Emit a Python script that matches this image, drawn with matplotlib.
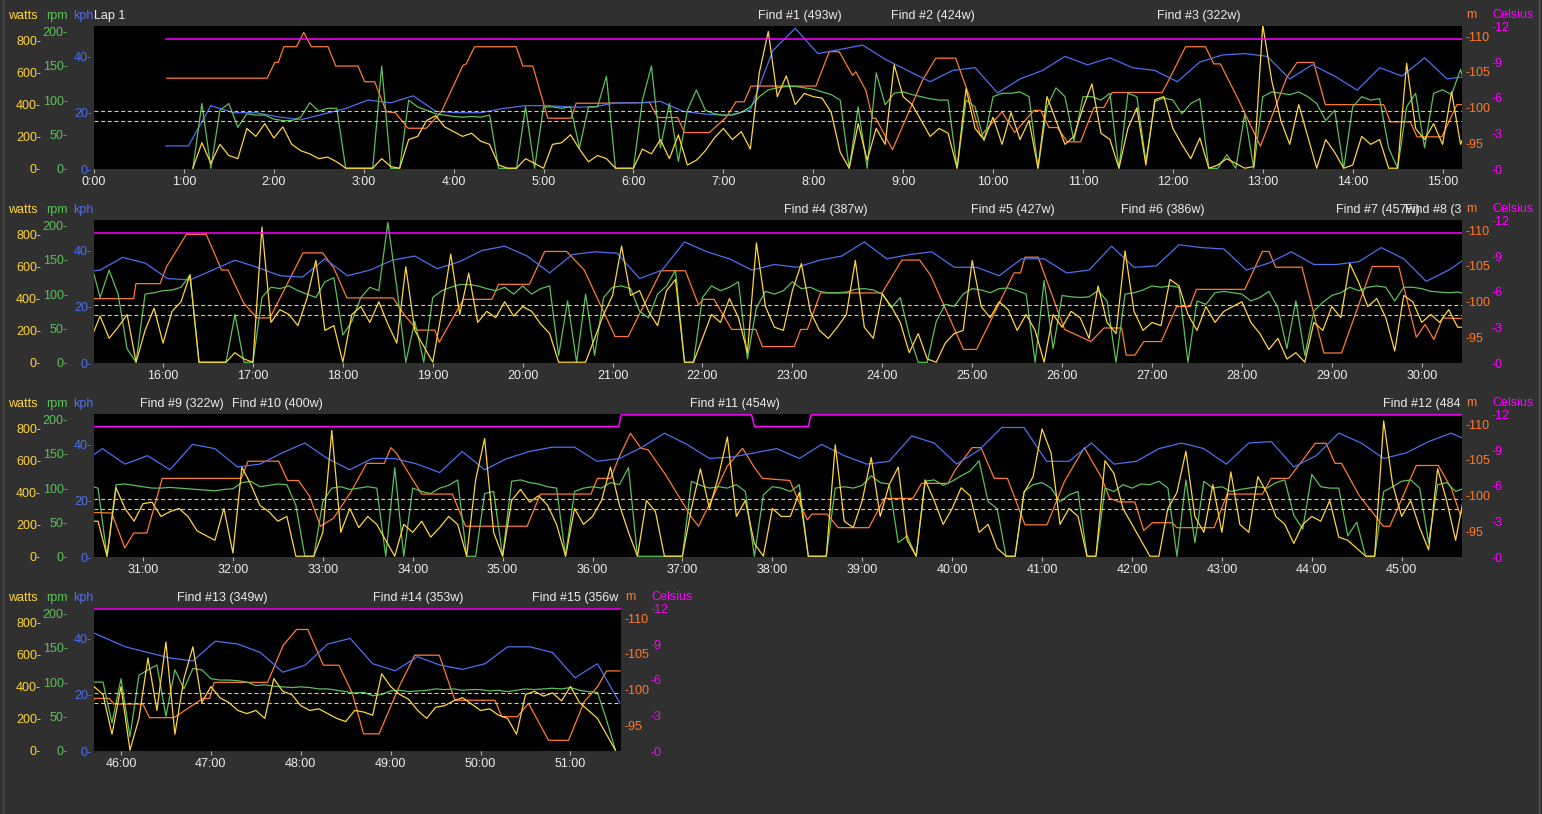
import numpy as np
import matplotlib.pyplot as plt
from matplotlib.ticker import FixedLocator, FuncFormatter
from matplotlib.transforms import Bbox, TransformedBbox, blended_transform_factory
from matplotlib.lines import Line2D

plt.rcParams['font.family'] = ['Liberation Sans', 'DejaVu Sans']
plt.rcParams['font.size'] = 9

# ride data, time in minutes
# power (watts) and cadence (rpm) every 0.1 min, one chunk per row
power_p1 = [0,
            160, 30, 150, 80, 60, 250, 200, 280, 190,
            260, 150, 110, 90, 60, 70, 40, 0, 0, 0,
            0, 60, 10, 0, 180, 200, 300, 330, 260, 230,
            200, 220, 170, 150, 20, 0, 0, 60, 30, 0,
            150, 160, 210, 120, 40, 80,
            60, 0, 0, 0,
            120, 90, 180, 60, 210, 20, 50, 110, 190, 250,
            180, 230, 120, 600, 860, 450, 580, 400, 470, 450,
            440, 350, 100, 0, 280, 50, 250, 150, 650, 450,
            400, 300, 200, 250, 220, 0, 500, 250, 180, 320,
            150, 350, 180,
            300, 0, 450, 300, 150, 200, 380,
            530, 220, 180, 0, 250, 380, 20, 430, 450, 250,
            150, 60, 190, 0, 20, 60, 30, 0, 10, 900,
            550, 300, 150, 400, 200, 0, 180, 100, 0, 20,
            200, 150, 180, 0, 0, 660, 250, 180, 280, 150,
            480, 150]
power_p2 = [290, 150, 220, 300, 0, 200, 340, 120,
            320, 380, 550, 0, 0, 0, 0, 60, 20, 0,
            850, 250, 330, 300, 230, 400, 640, 200, 230, 0,
            300, 350, 250, 380, 240, 120, 600, 200, 100, 0,
            320, 680, 300, 560, 250, 320, 280, 380, 290, 350,
            320, 240, 180, 0, 0, 0, 0, 150, 300, 420,
            730, 420, 450, 320, 230, 450, 520, 0, 0, 150,
            300, 250, 400, 280, 60, 750, 350, 220,
            200, 450,
            620, 320, 200, 150, 220, 300, 640, 220, 150, 430,
            350, 250, 60, 180, 20, 0, 120, 180, 200, 640,
            350, 280, 380, 330, 200, 300, 200, 0, 300, 220,
            320, 280, 150, 480, 250, 180, 700, 320, 200, 250,
            230, 520, 480, 300, 200, 350, 250, 320, 350, 380,
            250, 180, 80, 150, 20, 60, 0, 250, 200, 350,
            280, 620, 500, 350, 400, 280, 70, 420, 380, 250,
            300, 250, 330, 220]
power_p3 = [220, 0, 430, 300, 220, 330,
            340, 250, 280, 300, 250, 160, 130, 100, 300, 20,
            560, 450, 320, 280, 220, 250, 0, 0, 0, 150,
            790, 150, 300, 180, 250, 200, 100, 0, 200, 150,
            220, 120, 180, 250, 200, 0, 480, 740, 150, 0,
            350, 420, 340, 380, 320, 200, 0, 300, 200, 250,
            350, 560, 320, 150, 0, 350, 280, 0, 0, 0,
            300, 550, 300, 500, 750, 250, 350, 80, 0, 300,
            250,
            250, 400, 0, 0, 0, 700, 220, 180, 350,
            620, 250, 450, 560, 100, 0, 480, 350, 200, 300,
            430, 380, 150, 200, 50, 0, 0, 400, 500, 800,
            650, 200, 300, 250, 0, 0, 600, 520, 300, 200,
            100, 0, 0, 300, 400, 660, 250, 150, 450, 150,
            530, 200, 150, 500, 400, 250, 200, 80, 200, 250,
            220, 350, 120, 100, 50, 0, 0, 850, 450, 250,
            350, 180, 40, 550, 350, 100]
power_p4 = [400,
            350, 100, 400,
            0, 200, 580, 250, 680, 100, 450, 650, 300, 400,
            330, 300, 250, 230, 250, 200, 450, 370, 350, 280,
            250, 260, 230, 200, 180, 250, 240, 220, 480, 400,
            350, 320, 250, 200, 270, 280, 310, 330, 290, 250,
            260, 220, 200, 100, 350, 370, 340, 360, 310, 400,
            300, 250, 200, 100, 0]

cadence_p1 = [0,
              95, 0, 85, 95, 60, 80, 78, 78, 72,
              70, 70, 75, 96, 84, 88, 88, 0, 0, 0,
              0, 150, 0, 0, 100, 90, 85, 80, 78, 76,
              75, 76, 75, 78, 0, 0, 0, 90, 0, 90,
              90, 88, 90, 30, 90, 90,
              135, 0, 0, 0,
              100, 150, 30, 95, 10, 85, 115, 85, 80, 78,
              78, 82, 90, 105, 115, 118, 120, 120, 118, 116,
              112, 108, 100, 0, 90, 0, 140, 93, 110, 112,
              108, 105, 102, 100, 100, 0, 100, 90, 40, 105,
              110, 110, 112,
              105, 0, 90, 118, 105, 40, 105,
              105, 100, 110, 0, 110, 105, 10, 98, 103, 100,
              80, 95, 102, 0, 0, 20, 0, 80, 0, 105,
              112, 110, 108, 112, 105, 95, 70, 85, 0, 90,
              105, 100, 102, 30, 0, 90, 110, 30, 110, 115,
              108, 145]
cadence_p2 = [95, 135, 100, 20, 0, 100, 102, 105,
              106, 110, 128, 0, 0, 0, 0, 70, 0, 0,
              95, 110, 108, 112, 105, 100, 95, 118, 124, 40,
              60, 95, 110, 105, 205, 110, 0, 60, 0, 95,
              105, 110, 114, 114, 112, 108, 105, 110, 100, 112,
              100, 108, 112, 10, 90, 0, 100, 10, 95, 110,
              112, 108, 75, 65, 100, 112, 135, 0, 0, 95,
              112, 105, 110, 118, 5, 80, 104, 100,
              105, 118,
              108, 110, 104, 102, 102, 103, 107, 108, 106, 100,
              80, 95, 40, 0, 0, 60, 85, 82, 100, 108,
              106, 102, 108, 109, 105, 100, 0, 120, 20, 98,
              96, 95, 96, 105, 90, 0, 100, 102, 106, 112,
              110, 112, 110, 0, 90, 85, 102, 104, 102, 100,
              90, 95, 104, 80, 20, 90, 10, 75, 88, 98,
              102, 110, 105, 110, 112, 110, 90, 110, 110, 108,
              104, 103, 102, 103]
cadence_p3 = [100, 0, 105, 106, 104, 102,
              100, 100, 101, 100, 99, 98, 97, 96, 98, 99,
              108, 110, 102, 104, 106, 105, 75, 0, 0, 80,
              100, 102, 98, 100, 102, 100, 0, 130, 0, 100,
              95, 92, 100, 104, 112, 0, 0, 92, 95, 0,
              110, 112, 108, 106, 102, 100, 0, 95, 100, 102,
              100, 108, 105, 130, 0, 0, 0, 0, 0, 0,
              110, 104, 100, 102, 100, 105, 95, 0, 90, 102,
              100,
              95, 105, 0, 0, 0, 100, 102, 100, 104,
              118, 108, 106, 20, 30, 0, 110, 112, 104, 110,
              118, 125, 140, 80, 70, 0, 0, 95, 105, 108,
              100, 80, 90, 95, 0, 0, 100, 95, 105, 100,
              106, 105, 110, 100, 0, 112, 20, 110, 100, 102,
              95, 98, 100, 102, 100, 108, 112, 60, 40, 120,
              102, 100, 100, 30, 50, 0, 0, 95, 102, 110,
              112, 100, 20, 105, 108, 95]
cadence_p4 = [100,
              100, 40, 105,
              20, 110, 118, 125, 50, 118, 90, 120, 118, 105,
              103, 103, 102, 100, 95, 96, 94, 93, 92, 93,
              92, 90, 90, 88, 86, 84, 85, 80, 82, 87,
              88, 86, 87, 88, 90, 89, 90, 88, 89, 89,
              87, 88, 86, 88, 90, 89, 90, 91, 90, 92,
              88, 86, 85, 45, 0]

# speed (kph) every 0.25 min
speed_p1 = [8.2, 8.2, 22.5, 20, 20, 18.5, 17.5, 19.5, 21.5, 24.5,
            23.5, 26, 20.5, 20, 20, 21.5, 22.5, 22.5, 22, 22,
            23.5, 23.5, 24, 20.5, 19.5, 19, 21, 42, 50, 41,
            42.5, 44, 39, 35, 31, 35, 36, 27, 32, 35,
            40, 37, 39.5, 36, 35, 31, 38, 40.5, 41, 40,
            32, 37, 33, 28, 36, 33, 39.5, 32, 33]
speed_p2 = [37.5, 35.5, 30, 29.5, 33, 36.5, 34, 31, 30.5, 37,
            31, 33, 36.5, 38, 33.5, 36, 40, 41.5, 38, 32,
            38.5, 39.5, 39, 30, 33, 43, 39.5, 37, 33, 35,
            34, 36.5, 38, 43, 37, 38.5, 39.5, 34, 34, 31,
            37, 37, 32, 33, 41.5, 34, 34.5, 42, 41, 40.5,
            33, 35.5, 39.5, 35, 35, 36, 41, 37, 29, 33]
speed_p3 = [38.5, 33, 36, 31, 40, 38.5, 32, 33, 37, 40.5,
            35, 31, 35, 35, 33, 30, 37.5, 31, 35, 37.5,
            39, 39, 34, 35, 39, 44, 40, 35, 35.5, 37, 38.5,
            35, 40, 36, 33, 34, 43, 40.5, 33, 38, 46,
            46, 34, 34, 40.5, 33, 34, 38.5, 40.5, 38.5, 33,
            40.5, 41, 32, 36, 44, 40.5, 35, 37, 41, 44]
speed_p4 = [40.5, 37, 35, 33, 32, 39, 38, 35, 28, 30.5, 38, 40,
            31, 28.5, 33.5, 30.5, 29, 31, 37, 37, 35, 26, 31, 17]

# altitude (m) at its break points
alt_t = [0.807, 1.926, 2.011, 2.05, 2.111, 2.252, 2.333, 2.418, 2.603, 2.689,
         2.937, 3.011, 3.122, 3.252, 3.35, 3.493, 3.696, 3.863, 3.993, 4.104,
         4.14, 4.233, 4.696, 4.77, 4.881, 5.048, 5.307, 5.363, 5.622, 6.178,
         6.27, 6.492, 6.567, 6.844, 7.03, 7.141, 7.233, 7.307, 8.03, 8.178,
         8.289, 8.437, 8.474, 8.585, 8.659, 8.696, 8.881, 9.215, 9.363, 9.585,
         9.733, 9.86, 10.1, 10.24, 10.344, 10.455, 10.529, 10.622, 10.715, 10.826,
         10.974, 11.122, 11.233, 11.326, 11.881, 11.937, 12.141, 12.363, 12.455, 12.529,
         12.733, 12.974, 13.27, 13.381, 13.566, 13.696, 14.344, 14.418, 14.641, 14.715,
         14.992, 15.159, 15.673, 15.698, 15.967, 16.04, 16.26, 16.48, 16.651, 16.724,
         16.896, 17.042, 17.189, 17.556, 17.776, 17.898, 18.045, 18.558, 18.68, 18.827,
         19.023, 19.072, 19.341, 19.658, 19.732, 20.074, 20.245, 20.49, 20.685, 21.028,
         21.174, 21.541, 21.81, 21.957, 22.006, 22.128, 22.324, 22.592, 22.666, 23.02,
         23.093, 23.167, 23.313, 23.998, 24.218, 24.414, 24.536, 24.903, 25.049, 25.465,
         25.538, 25.587, 25.734, 26.027, 26.321, 26.467, 26.663, 26.712, 26.81, 26.908,
         27.103, 27.274, 27.421, 27.494, 28.032, 28.228, 28.301, 28.375, 28.668, 28.912,
         29.108, 29.45, 29.744, 29.94, 30.037, 30.135, 30.233, 30.652, 30.798, 30.896,
         31.043, 31.214, 32.094, 32.168, 32.51, 32.608, 32.73, 32.852, 32.974, 33.121,
         33.317, 33.488, 33.684, 33.757, 33.82, 33.977, 34.099, 34.441, 34.588, 35.273,
         35.42, 35.982, 36.055, 36.202, 36.3, 36.422, 36.54, 36.618, 36.813, 37.106,
         37.18, 37.35, 37.498, 37.669, 37.791, 37.889, 38.194, 38.3, 38.39, 38.439,
         38.61, 38.732, 39.074, 39.246, 39.563, 39.661, 39.955, 40.03, 40.223, 40.321,
         40.468, 40.615, 40.81, 41.055, 41.25, 41.47, 41.666, 41.75, 41.862, 42.033,
         42.131, 42.228, 42.449, 42.497, 42.913, 43.06, 43.451, 43.549, 43.744, 43.89,
         44.038, 44.16, 44.258, 44.331, 44.527, 44.796, 44.869, 45.162, 45.407, 45.553,
         45.651, 45.707, 45.871, 45.92, 46.243, 46.317, 46.59, 46.912, 46.986, 47.036,
         47.631, 47.805, 47.954, 48.078, 48.251, 48.425, 48.574, 48.698, 48.871, 49.094,
         49.268, 49.541, 49.714, 50.161, 50.235, 50.409, 50.533, 50.756, 50.979, 51.153,
         51.302, 51.401, 51.55]
alt_m = [104.1, 104.1, 106.3, 106.3, 108.5, 108.5, 110.5, 108.5, 108.5, 105.8,
         105.8, 103.6, 103.6, 99.4, 99.3, 97.1, 97.1, 99.4, 102.9, 105.9,
         106.1, 108.5, 108.5, 105.8, 105.8, 98.5, 98.5, 100.6, 100.6, 100.7,
         98.6, 98.6, 96.5, 96.5, 98.6, 100.8, 100.8, 103.0, 103.0, 107.8,
         107.8, 104.5, 105.0, 102.4, 98.5, 98.5, 94.1, 103.8, 106.9, 106.9,
         101.7, 96.0, 99.4, 96.5, 98.0, 99.6, 99.6, 97.2, 97.2, 95.2,
         95.2, 100.0, 100.0, 102.1, 102.1, 103.4, 108.5, 108.5, 106.1, 106.1,
         101.0, 94.6, 104.3, 106.3, 106.3, 100.4, 100.4, 98.0, 98.0, 95.9,
         95.9, 100.4, 100.4, 102.5, 102.5, 104.9, 109.4, 109.4, 104.4, 104.4,
         99.8, 97.7, 97.7, 106.8, 106.8, 104.7, 100.5, 100.5, 98.2, 96.0,
         96.0, 94.3, 100.3, 100.3, 102.4, 102.4, 107.0, 107.0, 104.4, 95.1,
         95.1, 104.3, 104.3, 99.5, 100.3, 100.3, 96.1, 96.1, 93.7, 93.7,
         96.1, 96.1, 101.2, 101.2, 105.8, 105.8, 103.7, 93.3, 93.3, 104.0,
         104.0, 106.2, 106.2, 96.1, 94.4, 96.3, 96.3, 92.5, 92.5, 94.4,
         94.4, 99.3, 99.3, 101.7, 101.7, 107.0, 107.0, 104.8, 104.8, 92.8,
         92.8, 104.9, 104.9, 95.0, 96.8, 94.7, 97.7, 97.55, 92.66, 94.75,
         94.75, 102.4, 102.4, 104.8, 104.8, 102.1, 102.1, 99.9, 95.7, 96.85,
         100.6, 104.5, 104.5, 106.7, 105.9, 102.7, 100.2, 100.2, 95.7, 95.7,
         100.2, 100.2, 102.4, 102.4, 105.5, 108.7, 106.6, 106.4, 102.9, 96.85,
         95.7, 100.1, 104.1, 106.6, 104.1, 102.4, 102.1, 99.0, 96.6, 97.4,
         97.4, 95.5, 95.5, 99.6, 99.6, 101.7, 101.7, 103.5, 106.7, 106.7,
         102.4, 102.4, 95.9, 95.9, 102.0, 106.7, 102.4, 99.6, 99.1, 99.1,
         95.1, 96.2, 96.2, 95.5, 95.5, 100.2, 100.2, 102.4, 102.4, 104.8,
         107.3, 107.3, 104.5, 104.5, 100.0, 95.7, 95.7, 104.2, 104.2, 101.0,
         97.3, 98.76, 98.76, 97.97, 97.97, 96.06, 96.06, 98.76, 98.76, 101.0,
         101.0, 106.2, 108.4, 108.4, 103.4, 103.4, 99.46, 93.8, 93.8, 100.4,
         104.8, 104.8, 98.5, 98.5, 96.2, 96.2, 98.06, 92.9, 92.9, 98.3,
         100.4, 102.6, 102.6]

# temperature (Celsius)
temp_t = [0.8, 36.29, 36.32, 37.77, 37.80, 38.40, 38.43, 51.56]
temp_c = [11, 11, 12, 12, 11, 11, 12, 12]

# dashed power reference lines (watts)
ref_watts = [358, 296]

# intervals: name, start minute
find_names = ["Find #1 (493w)", "Find #2 (424w)", "Find #3 (322w)",
              "Find #4 (387w)", "Find #5 (427w)", "Find #6 (386w)",
              "Find #7 (457w)", "Find #8 (3", "Find #9 (322w)",
              "Find #10 (400w)", "Find #11 (454w)", "Find #12 (484",
              "Find #13 (349w)", "Find #14 (353w)", "Find #15 (356w"]
find_start = [7.38, 8.86, 11.82, 22.91, 24.99, 26.66, 29.05, 29.81,
              30.97, 31.99, 37.08, 44.79, 46.62, 48.80, 50.57]

watts_ticks = [0, 200, 400, 600, 800]
rpm_ticks = [0, 50, 100, 150, 200]
kph_ticks = [0, 20, 40]
m_ticks = [95, 100, 105, 110]
c_ticks = [0, 3, 6, 9, 12]


def series(chunks, step):
    ts, vs = [], []
    for t0, vals in chunks:
        ts.append(t0 + step * np.arange(len(vals)))
        vs.append(np.asarray(vals, dtype=float))
    return np.concatenate(ts), np.concatenate(vs)


pow_t, pow_v = series([(1.1, power_p1), (15.3, power_p2), (30.5, power_p3), (45.7, power_p4)], 0.1)
cad_t, cad_v = series([(1.1, cadence_p1), (15.3, cadence_p2), (30.5, cadence_p3), (45.7, cadence_p4)], 0.1)
spd_t, spd_v = series([(0.8, speed_p1), (15.55, speed_p2), (30.55, speed_p3), (45.8, speed_p4)], 0.25)

BG = '#303030'
YELLOW = '#ffd43c'
GREEN = '#5cbf5a'
BLUE = '#4d6ff0'
ORANGE = '#ff7a2c'
MAGENTA = '#ff00ff'
WHITE = '#ececec'

W, H = 1542, 814
fig = plt.figure(figsize=(W / 100, H / 100), dpi=100, facecolor=BG)


def fx(x):
    return x / W


def fy(y):
    return 1 - y / H


# (top px, width px, xmin, xmax)
panels = [(26, 1368, 0.0, 15.216),
          (220, 1368, 15.232, 30.448),
          (414, 1368, 30.455, 45.671),
          (608, 527, 45.70, 51.562)]

PH = 143
LEFT = 94

for i, (top, wpx, t0, t1) in enumerate(panels):
    ax_alt = fig.add_axes([fx(LEFT), fy(top + PH), wpx / W, PH / H], facecolor='black')
    ax_spd = ax_alt.twinx()
    ax_cad = ax_alt.twinx()
    ax_pow = ax_alt.twinx()
    ax_tmp = ax_alt.twinx()

    ax_alt.plot(alt_t, alt_m, color=ORANGE, lw=0.9)
    ax_spd.plot(spd_t, spd_v, color=BLUE, lw=0.9)
    ax_cad.plot(cad_t, cad_v, color=GREEN, lw=0.9)
    for w in ref_watts:
        ax_pow.axhline(w, color=YELLOW, lw=0.8, ls=(0, (3.5, 2.5)))
    ax_pow.plot(pow_t, pow_v, color=YELLOW, lw=0.9)
    ax_tmp.plot(temp_t, temp_c, color=MAGENTA, lw=1.1)

    ax_alt.set_xlim(t0, t1)
    ax_alt.set_ylim(91.4, 111.4)
    ax_spd.set_ylim(0, 50.8)
    ax_cad.set_ylim(-1, 208.6)
    ax_pow.set_ylim(-5, 894)
    ax_tmp.set_ylim(0, 12.07)

    for a in (ax_alt, ax_spd, ax_cad, ax_pow, ax_tmp):
        for s in a.spines.values():
            s.set_visible(False)

    left_axes = [(ax_pow, watts_ticks, YELLOW, 38.2),
                 (ax_cad, rpm_ticks, GREEN, 19.0),
                 (ax_spd, kph_ticks, BLUE, 1.5)]
    for a, ticks, col, pad in left_axes:
        a.yaxis.tick_left()
        a.yaxis.set_major_locator(FixedLocator(ticks))
        a.yaxis.set_major_formatter(FuncFormatter(lambda v, p: f"{v:g}-"))
        a.tick_params(axis='y', length=0, pad=pad, labelcolor=col, labelsize=9,
                      left=True, right=False, labelleft=True, labelright=False)

    right_axes = [(ax_alt, m_ticks, ORANGE, 2.6),
                  (ax_tmp, c_ticks, MAGENTA, 21.4)]
    for a, ticks, col, pad in right_axes:
        a.yaxis.tick_right()
        a.yaxis.set_major_locator(FixedLocator(ticks))
        a.yaxis.set_major_formatter(FuncFormatter(lambda v, p: f"-{v:g}"))
        a.tick_params(axis='y', length=0, pad=pad, labelcolor=col, labelsize=9,
                      left=False, right=True, labelleft=False, labelright=True)

    minutes = list(range(int(np.ceil(t0)), int(np.floor(t1)) + 1))
    ax_alt.xaxis.set_major_locator(FixedLocator(minutes))
    ax_alt.xaxis.set_major_formatter(FuncFormatter(lambda v, p: f"{int(round(v))}:00"))
    ax_alt.tick_params(axis='x', length=3, width=0.8, color='#b0b0b0', pad=2,
                       labelcolor=WHITE, labelsize=9)

    # header texts
    yh = fy(top - 10)
    fig.text(fx(8), yh, "watts", color=YELLOW, va='center', ha='left')
    fig.text(fx(46), yh, "rpm", color=GREEN, va='center', ha='left')
    fig.text(fx(73), yh, "kph", color=BLUE, va='center', ha='left')
    if i == 0:
        fig.text(fx(LEFT), yh, "Lap 1", color=WHITE, va='center', ha='left')
    right = LEFT + wpx
    fig.text(fx(right + 4), fy(top - 11), "m", color=ORANGE, va='center', ha='left')
    fig.text(fx(right + 30), fy(top - 11), "Celsius", color=MAGENTA, va='center', ha='left')

    clip = TransformedBbox(Bbox.from_extents(fx(LEFT), fy(top), fx(right), fy(top - 24)),
                           fig.transFigure)
    trans = blended_transform_factory(ax_alt.transData, fig.transFigure)
    for name, start in zip(find_names, find_start):
        if t0 <= start < t1:
            t = fig.text(start, yh, name, color=WHITE, va='center', ha='left', transform=trans)
            t.set_clip_box(clip)
            t.set_clip_on(True)

fig.add_artist(Line2D([fx(3), fx(3)], [0, 1], color='#4a4a4a', lw=1, transform=fig.transFigure))
fig.add_artist(Line2D([fx(1539), fx(1539)], [0, 1], color='#5a5a5a', lw=1, transform=fig.transFigure))

fig.savefig('out.png', dpi=100, facecolor=BG)
